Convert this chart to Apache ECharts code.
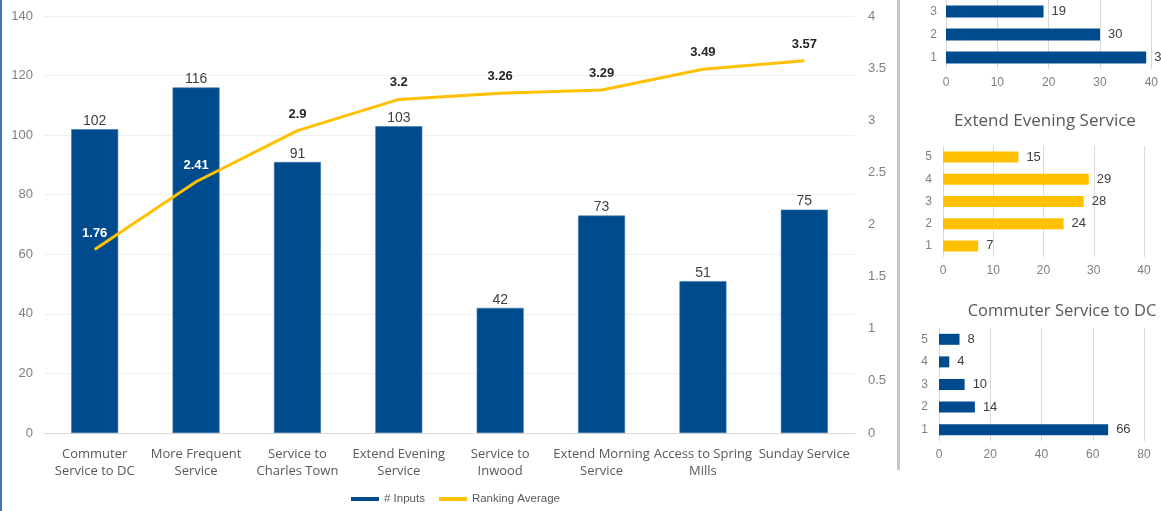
<!DOCTYPE html>
<html>
<head>
<meta charset="utf-8">
<script src="https://cdn.jsdelivr.net/npm/echarts@6/dist/echarts.min.js"></script>
<style>
html,body{margin:0;padding:0;background:#fff;}
#chart{width:1161px;height:511px;}
</style>
</head>
<body>
<div id="chart"></div>
<script>
// ---- data ----
const categories = ['Commuter Service to DC','More Frequent Service','Service to Charles Town','Extend Evening Service','Service to Inwood','Extend Morning Service','Access to Spring Mills','Sunday Service'];
const categoryTickLabels = ['Commuter\nService to DC','More Frequent\nService','Service to\nCharles Town','Extend Evening\nService','Service to\nInwood','Extend Morning\nService','Access to Spring\nMills','Sunday Service'];
const inputs = [102,116,91,103,42,73,51,75];
const rankingAvg = [1.76,2.41,2.9,3.2,3.26,3.29,3.49,3.57];

const topLevels = ['1','2','3'];
const topCounts = [39,30,19];

const eveningTitle = 'Extend Evening Service';
const eveningLevels = ['1','2','3','4','5'];
const eveningCounts = [7,24,28,29,15];

const commuterTitle = 'Commuter Service to DC';
const commuterLevels = ['1','2','3','4','5'];
const commuterCounts = [66,14,10,4,8];

// ---- styles ----
const BLUE = '#004B8D';
const GOLD = '#FFC000';
const NUM_FONT = '"Liberation Sans", Arial, sans-serif';
const TXT_FONT = '"Open Sans", "Liberation Sans", sans-serif';

const chart = echarts.init(document.getElementById('chart'), null, {renderer:'canvas'});

function smallValueAxis(gridIndex, max, interval){
  return {
    type:'value', gridIndex, min:0, max, interval,
    axisLine:{show:false}, axisTick:{show:false},
    splitLine:{show:true, lineStyle:{color:'#d9d9d9', width:1}},
    axisLabel:{color:'#7f7f7f', fontSize:12, fontFamily:NUM_FONT, margin:8}
  };
}
function smallCatAxis(gridIndex, data, margin){
  return {
    type:'category', gridIndex, data,
    axisLine:{show:false}, axisTick:{show:false},
    axisLabel:{color:'#7f7f7f', fontSize:12, fontFamily:NUM_FONT, margin}
  };
}
function smallBar(idx, data, color, w){
  return {
    type:'bar', xAxisIndex:idx, yAxisIndex:idx+1, data, barWidth:w,
    itemStyle:{color}, silent:true,
    label:{show:true, position:'right', distance:8, color:'#404040', fontSize:13, fontFamily:NUM_FONT}
  };
}

const option = {
  animation:false,
  backgroundColor:'#ffffff',
  textStyle:{fontFamily:NUM_FONT},
  title:[
    {text:eveningTitle, left:1040, top:108, textAlign:'center',
      textStyle:{color:'#595959', fontSize:17, fontWeight:'normal', fontFamily:TXT_FONT}},
    {text:commuterTitle, left:1057, top:298, textAlign:'center',
      textStyle:{color:'#595959', fontSize:16.5, fontWeight:'normal', fontFamily:TXT_FONT}}
  ],
  legend:{
    left:346, top:488, itemWidth:28, itemHeight:4, itemGap:14,
    data:[{name:'# Inputs', icon:'rect'},{name:'Ranking Average', icon:'rect'}],
    itemStyle:{borderWidth:0},
    textStyle:{color:'#595959', fontSize:11.5, fontFamily:NUM_FONT}
  },
  grid:[
    {left:44, right:306, top:16, bottom:78},
    {left:946, width:211, top:0, height:69},
    {left:943, width:201, top:146, height:111},
    {left:939, width:205, top:328, height:113}
  ],
  xAxis:[
    {type:'category', gridIndex:0, data:categories,
      axisLine:{lineStyle:{color:'#d9d9d9'}}, axisTick:{show:false},
      axisLabel:{color:'#595959', fontSize:13, fontFamily:TXT_FONT, margin:13, lineHeight:17, interval:0,
        formatter:(v,i)=>categoryTickLabels[i]}},
    smallValueAxis(1, 40, 10),
    smallValueAxis(2, 40, 10),
    smallValueAxis(3, 80, 20)
  ],
  yAxis:[
    {type:'value', gridIndex:0, min:0, max:140, interval:20,
      axisLine:{show:false}, axisTick:{show:false},
      splitLine:{lineStyle:{color:'#efefef'}},
      axisLabel:{color:'#808080', fontSize:13, fontFamily:NUM_FONT, margin:11}},
    {type:'value', gridIndex:0, min:0, max:4, interval:0.5, position:'right',
      axisLine:{show:false}, axisTick:{show:false}, splitLine:{show:false},
      axisLabel:{color:'#808080', fontSize:13, fontFamily:NUM_FONT, margin:13}},
    smallCatAxis(1, topLevels, 9),
    smallCatAxis(2, eveningLevels, 11),
    smallCatAxis(3, commuterLevels, 11)
  ],
  series:[
    {name:'# Inputs', type:'bar', xAxisIndex:0, yAxisIndex:0, data:inputs, barWidth:47,
      itemStyle:{color:BLUE, borderColor:'#3f78b0', borderWidth:0.6},
      label:{show:true, position:'top', distance:1, color:'#404040', fontSize:14, fontFamily:NUM_FONT}},
    {name:'Ranking Average', type:'line', xAxisIndex:0, yAxisIndex:1,
      data:rankingAvg.map((v,i)=>({value:v,
        label:{color:(v*35+6 < inputs[i]) ? '#ffffff' : '#262626'}})),
      symbol:'circle', symbolSize:0.1, showSymbol:true,
      lineStyle:{color:GOLD, width:3}, itemStyle:{color:GOLD},
      label:{show:true, position:'top', distance:10, fontSize:13, fontWeight:'bold', fontFamily:NUM_FONT}},
    smallBar(1, topCounts, BLUE, 12),
    smallBar(2, eveningCounts, GOLD, 11),
    smallBar(3, commuterCounts, BLUE, 11)
  ],
  graphic:[
    {type:'rect', left:0, top:0, shape:{width:2, height:511}, style:{fill:'#4472C4'}, silent:true},
    {type:'rect', left:897, top:0, shape:{width:3, height:470}, style:{fill:'#c8c8c8'}, silent:true}
  ]
};
chart.setOption(option);
</script>
</body>
</html>
